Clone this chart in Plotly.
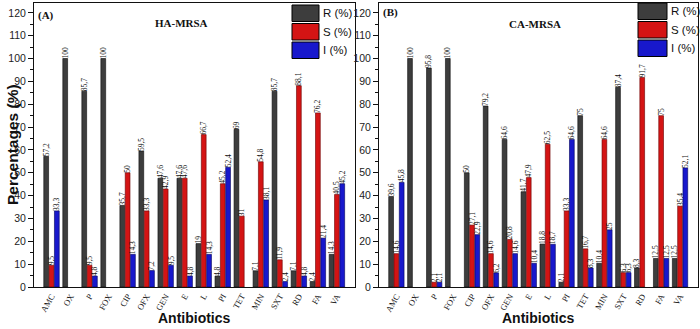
import plotly.graph_objects as go

antibiotics = ["AMC", "OX", "P", "FOX", "CIP", "OFX", "GEN", "E", "L", "PI",
               "TET", "MIN", "SXT", "RD", "FA", "VA"]

ha_r = [57.2, 100, 85.7, 100, 35.7, 59.5, 47.6, 47.6, 19, 4.8, 69, 7.1, 85.7, 7.1, 2.4, 14.3]
ha_s = [9.5, None, 9.5, None, 50, 33.3, 42.9, 47.6, 66.7, 45.2, 31, 54.8, 11.9, 88.1, 76.2, 40.5]
ha_i = [33.3, None, 4.8, None, 14.3, 7.2, 9.5, 4.8, 14.3, 52.4, None, 38.1, 2.4, 4.8, 21.4, 45.2]

ca_r = [39.6, 100, 95.8, 100, 50, 79.2, 64.6, 41.7, 18.8, 2.1, 75, 10.4, 87.4, 8.3, 12.5, 12.5]
ca_s = [14.6, None, 2.1, None, 27.1, 14.6, 20.8, 47.9, 62.5, 33.3, 16.7, 64.6, 6.3, 91.7, 75, 35.4]
ca_i = [45.8, None, 2.1, None, 22.9, 6.2, 14.6, 10.4, 18.7, 64.6, 8.3, 25, 6.3, None, 12.5, 52.1]

series_names = ["R (%)", "S (%)", "I (%)"]
fill_colors = ["#3d3d3d", "#d41414", "#1818cc"]
edge_colors = ["#0a0a0a", "#6a0000", "#00005a"]

SANS = "Liberation Sans, Arial"
SERIF = "Liberation Serif, Times New Roman"


def lab(vals):
    return ["" if v is None else f"{v:g}".replace(".", ",") for v in vals]


fig = go.Figure()
panels = [("x", "y", [ha_r, ha_s, ha_i]), ("x2", "y2", [ca_r, ca_s, ca_i])]
for xa, ya, data in panels:
    for k, vals in enumerate(data):
        fig.add_trace(go.Bar(
            x=antibiotics, y=vals, name=series_names[k], xaxis=xa, yaxis=ya,
            marker=dict(color=fill_colors[k], line=dict(color=edge_colors[k], width=0.6)),
            text=lab(vals), textposition="outside", textangle=-90,
            constraintext="none", cliponaxis=False,
            textfont=dict(family=SERIF, size=7.5, color="#111"),
            showlegend=False, offsetgroup=str(k), hoverinfo="skip",
        ))

W, H = 700, 329
ML, MR, MT, MB = 34, 2, 3, 42
PW = W - ML - MR
PH = H - MT - MB

def dx(px):
    return (px - ML) / PW

def dy(py):
    return (H - MB - py) / PH

xrng = [-0.92, 15.95]
yrng = [0, 124.3]
common_x = dict(type="category", categoryorder="array", categoryarray=antibiotics,
                range=xrng, showline=True, linecolor="#111", linewidth=1, mirror=True,
                ticks="", tickangle=-60, automargin=False,
                tickfont=dict(family=SERIF, size=8.5, color="#111"))
common_y = dict(range=yrng, dtick=10, showline=True, linecolor="#111", linewidth=1,
                mirror=True, ticks="outside", ticklen=5, tickcolor="#111",
                minor=dict(dtick=5, ticks="outside", ticklen=3, tickcolor="#111"),
                showgrid=False, zeroline=False, automargin=False,
                tickfont=dict(family=SANS, size=10.5, color="#222"))
tick_x = dict(type="category", categoryorder="array", categoryarray=antibiotics,
              range=xrng, showticklabels=False, automargin=False,
              ticks="outside", ticklen=5, tickcolor="#111", tickmode="array",
              tickvals=antibiotics[1::2], showgrid=False, showline=False)

fig.update_layout(
    width=W, height=H,
    margin=dict(l=ML, r=MR, t=MT, b=MB, autoexpand=False),
    plot_bgcolor="white", paper_bgcolor="white",
    barmode="group", bargap=0.16, bargroupgap=0.1,
    xaxis=dict(domain=[0, dx(355)], anchor="y", **common_x),
    yaxis=dict(domain=[0, 1], anchor="x", **common_y),
    xaxis2=dict(domain=[dx(379), 1], anchor="y2", **common_x),
    yaxis2=dict(domain=[0, 1], anchor="x2", **common_y),
    xaxis3=dict(overlaying="x", anchor="y", **tick_x),
    xaxis4=dict(overlaying="x2", anchor="y2", **tick_x),
)

shapes = []
annotations = []
# custom legends (pixel placement)
for x0, x1, tx, ytop in [(292, 319, 321, 5), (638, 667, 669, 3)]:
    for k in range(3):
        t = ytop + k * 18.5
        b = t + 16.5
        shapes.append(dict(type="rect", xref="paper", yref="paper",
                           x0=dx(x0), x1=dx(x1), y0=dy(b), y1=dy(t),
                           fillcolor=fill_colors[k], line=dict(color="#000", width=1)))
        annotations.append(dict(xref="paper", yref="paper", x=dx(tx), y=dy((t + b) / 2),
                                text=series_names[k], showarrow=False, xanchor="left",
                                yanchor="middle",
                                font=dict(family=SANS, size=11.5, color="#111")))

annotations += [
    dict(xref="paper", yref="paper", x=dx(36), y=dy(15), text="<b>(A)</b>", showarrow=False,
         xanchor="left", yanchor="middle", font=dict(family=SERIF, size=11, color="#111")),
    dict(xref="paper", yref="paper", x=dx(181), y=dy(23), text="<b>HA-MRSA</b>", showarrow=False,
         xanchor="center", yanchor="middle", font=dict(family=SERIF, size=11, color="#111")),
    dict(xref="paper", yref="paper", x=dx(381), y=dy(13), text="<b>(B)</b>", showarrow=False,
         xanchor="left", yanchor="middle", font=dict(family=SERIF, size=11, color="#111")),
    dict(xref="paper", yref="paper", x=dx(535), y=dy(24), text="<b>CA-MRSA</b>", showarrow=False,
         xanchor="center", yanchor="middle", font=dict(family=SERIF, size=11, color="#111")),
    dict(xref="paper", yref="paper", x=dx(12), y=dy(145), text="<b>Percentages (%)</b>",
         showarrow=False, textangle=-90, xanchor="center", yanchor="middle",
         font=dict(family=SANS, size=15.5, color="#111")),
    dict(xref="paper", yref="paper", x=dx(194), y=dy(318), text="<b>Antibiotics</b>",
         showarrow=False, xanchor="center", yanchor="middle",
         font=dict(family=SANS, size=14, color="#111")),
    dict(xref="paper", yref="paper", x=dx(538), y=dy(318), text="<b>Antibiotics</b>",
         showarrow=False, xanchor="center", yanchor="middle",
         font=dict(family=SANS, size=14, color="#111")),
]
fig.update_layout(shapes=shapes, annotations=annotations)

fig.write_html("out.html", config={"displayModeBar": False},
               post_script="document.body.style.margin='0';")
